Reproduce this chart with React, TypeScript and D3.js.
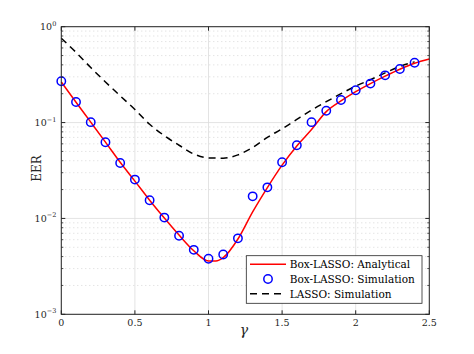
import React from 'react'
import * as d3 from 'd3'

// gamma grid for the simulations (0.1 steps)
const gammaSim = [0, 0.1, 0.2, 0.3, 0.4, 0.5, 0.6, 0.7, 0.8, 0.9, 1.0, 1.1, 1.2, 1.3, 1.4, 1.5, 1.6, 1.7, 1.8, 1.9, 2.0, 2.1, 2.2, 2.3, 2.4]
const boxSim = [0.27, 0.164, 0.101, 0.0623, 0.0379, 0.0254, 0.0155, 0.0102, 0.0066, 0.0047, 0.0038, 0.0042, 0.0062, 0.017, 0.0211, 0.0385, 0.058, 0.101, 0.133, 0.172, 0.217, 0.255, 0.311, 0.362, 0.421]

const gammaLasso = [0, 0.1, 0.2, 0.3, 0.4, 0.5, 0.6, 0.7, 0.8, 0.9, 1.0, 1.1, 1.2, 1.3, 1.4, 1.5, 1.6, 1.7, 1.8, 1.9, 2.0, 2.1, 2.2, 2.3, 2.4]
const lassoSim = [0.757, 0.54, 0.375, 0.265, 0.19, 0.137, 0.096, 0.073, 0.058, 0.047, 0.0428, 0.0425, 0.046, 0.055, 0.07, 0.086, 0.108, 0.135, 0.165, 0.2, 0.24, 0.28, 0.33, 0.385, 0.43]

const gammaAna = [0, 0.1, 0.2, 0.3, 0.4, 0.5, 0.6, 0.7, 0.8, 0.9, 1.0, 1.05, 1.1, 1.2, 1.3, 1.4, 1.5, 1.6, 1.7, 1.8, 1.9, 2.0, 2.1, 2.2, 2.3, 2.4, 2.5]
const boxAna = [0.265, 0.163, 0.101, 0.0625, 0.0385, 0.0245, 0.0155, 0.0101, 0.0067, 0.0046, 0.0036, 0.0036, 0.0039, 0.0061, 0.0117, 0.021, 0.036, 0.057, 0.0845, 0.13, 0.168, 0.21, 0.255, 0.305, 0.36, 0.415, 0.46]

const xTicks = [0, 0.5, 1, 1.5, 2, 2.5]
const xTickLabels = ['0', '0.5', '1', '1.5', '2', '2.5']
const yDecades = [1, 0.1, 0.01, 0.001]
const yExponents = ['0', '\u22121', '\u22122', '\u22123']

const legendLabels = ['Box-LASSO: Analytical', 'Box-LASSO: Simulation', 'LASSO: Simulation']

const W = 474
const H = 354
const margin = { top: 26.7, right: 44.7, bottom: 39.7, left: 61.3 }
const FONT = 'DejaVu Serif'

export default function App() {
  const x = d3.scaleLinear().domain([0, 2.5]).range([margin.left, W - margin.right])
  const y = d3.scaleLog().domain([1e-3, 1]).range([H - margin.bottom, margin.top])

  const minorY: number[] = []
  for (const dec of [0.001, 0.01, 0.1]) {
    for (let k = 2; k <= 9; k++) minorY.push(dec * k)
  }

  const mkLine = () =>
    d3
      .line<[number, number]>()
      .x((d) => x(d[0]))
      .y((d) => y(d[1]))
      .curve(d3.curveMonotoneX)

  const anaPath = mkLine()(gammaAna.map((g, i) => [g, boxAna[i]]))
  const lassoPath = mkLine()(gammaLasso.map((g, i) => [g, lassoSim[i]]))

  const x0 = x(0)
  const x1 = x(2.5)
  const y0 = y(1e-3)
  const y1 = y(1)
  const axisColor = '#262626'
  const gridColor = '#dcdcdc'

  // legend
  const lg = { x: 246.3, y: 255.7, w: 175.7, h: 47.6 }
  const rowY = [264.3, 279, 293.7]

  return (
    <svg width={W} height={H} style={{ position: 'absolute', left: 0, top: 0, background: '#fff' }} fontFamily={FONT}>
      <rect x={0} y={0} width={W} height={H} fill="#fff" />
      {/* minor grid */}
      {minorY.map((v) => (
        <line key={'mg' + v} x1={x0} x2={x1} y1={y(v)} y2={y(v)} stroke="#cfcfcf" strokeWidth={0.8} strokeDasharray="1,3" />
      ))}
      {/* major grid */}
      {xTicks.map((t) => (
        <line key={'gx' + t} x1={x(t)} x2={x(t)} y1={y0} y2={y1} stroke={gridColor} strokeWidth={0.8} />
      ))}
      {yDecades.map((t) => (
        <line key={'gy' + t} x1={x0} x2={x1} y1={y(t)} y2={y(t)} stroke={gridColor} strokeWidth={0.8} />
      ))}

      {/* series */}
      <path d={lassoPath || ''} fill="none" stroke="#000" strokeWidth={1.5} strokeDasharray="7,5" />
      <path d={anaPath || ''} fill="none" stroke="#ff0000" strokeWidth={1.5} />
      {gammaSim.map((g, i) => (
        <circle key={'c' + i} cx={x(g)} cy={y(boxSim[i])} r={4.2} fill="none" stroke="#0000ff" strokeWidth={1.5} />
      ))}

      {/* axes box */}
      <rect x={x0} y={y1} width={x1 - x0} height={y0 - y1} fill="none" stroke={axisColor} strokeWidth={1} />
      {xTicks.map((t) => (
        <g key={'tx' + t}>
          <line x1={x(t)} x2={x(t)} y1={y0} y2={y0 - 4} stroke={axisColor} />
          <line x1={x(t)} x2={x(t)} y1={y1} y2={y1 + 4} stroke={axisColor} />
        </g>
      ))}
      {yDecades.map((t) => (
        <g key={'ty' + t}>
          <line x1={x0} x2={x0 + 4} y1={y(t)} y2={y(t)} stroke={axisColor} />
          <line x1={x1} x2={x1 - 4} y1={y(t)} y2={y(t)} stroke={axisColor} />
        </g>
      ))}
      {minorY.map((v) => (
        <g key={'mt' + v}>
          <line x1={x0} x2={x0 + 2} y1={y(v)} y2={y(v)} stroke={axisColor} strokeWidth={0.8} />
          <line x1={x1} x2={x1 - 2} y1={y(v)} y2={y(v)} stroke={axisColor} strokeWidth={0.8} />
        </g>
      ))}

      {/* tick labels */}
      {xTicks.map((t, i) => (
        <text key={'lx' + t} x={x(t)} y={y0 + 11.5} textAnchor="middle" fontSize={9.5} fill="#262626">
          {xTickLabels[i]}
        </text>
      ))}
      {yDecades.map((t, i) => (
        <text key={'ly' + t} x={x0 - 5} y={y(t) + 3.5} textAnchor="end" fontSize={9.5} fill="#262626">
          10
          <tspan fontSize={6.5} dy={-4.5}>
            {yExponents[i]}
          </tspan>
        </text>
      ))}

      {/* axis labels */}
      <text x={244} y={335} textAnchor="middle" fontSize={14} fontStyle="italic" fill="#262626">
        γ
      </text>
      <text transform={`translate(${40.7},${168.5}) rotate(-90)`} textAnchor="middle" fontSize={12} fill="#262626">
        EER
      </text>

      {/* legend */}
      <rect x={lg.x} y={lg.y} width={lg.w} height={lg.h} fill="#fff" stroke={axisColor} strokeWidth={0.8} />
      <line x1={250} x2={286} y1={rowY[0]} y2={rowY[0]} stroke="#ff0000" strokeWidth={1.5} />
      <circle cx={268} cy={rowY[1]} r={4.2} fill="none" stroke="#0000ff" strokeWidth={1.5} />
      <line x1={250} x2={286} y1={rowY[2]} y2={rowY[2]} stroke="#000" strokeWidth={1.5} strokeDasharray="7,5" />
      {legendLabels.map((l, i) => (
        <text key={l} x={289.7} y={rowY[i] + 3.8} fontSize={10.5} fill="#000">
          {l}
        </text>
      ))}
    </svg>
  )
}
